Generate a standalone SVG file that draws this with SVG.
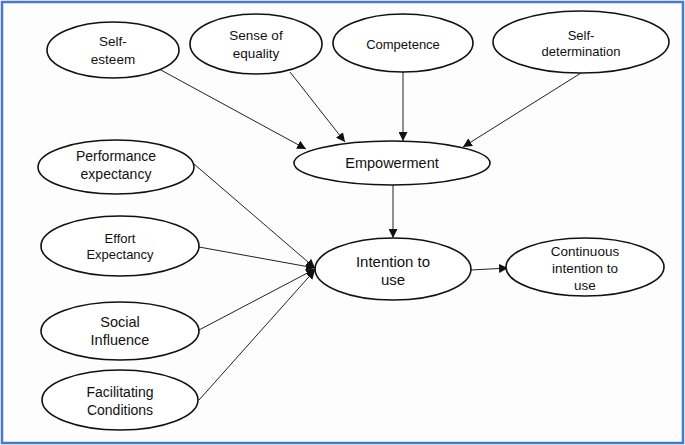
<svg xmlns="http://www.w3.org/2000/svg" width="685" height="445" viewBox="0 0 685 445">
<style>
.node ellipse{fill:#ffffff;stroke:#111;stroke-width:1.6}
.node text{font-family:"Liberation Sans",Arial,sans-serif;fill:#111;text-anchor:middle;dominant-baseline:central}
.c line{stroke:#222;stroke-width:1}
</style>
<defs>
<marker id="ah" viewBox="0 0 10 10" refX="10" refY="5" markerWidth="9" markerHeight="9" markerUnits="userSpaceOnUse" orient="auto">
<path d="M0,0 L10,5 L0,10 z" fill="#111"/>
</marker>
</defs>
<rect x="0" y="0" width="685" height="445" fill="#fdfdfd"/>
<rect x="2" y="2" width="681" height="441" fill="none" stroke="#4a78cc" stroke-width="2.5"/>
<g class="c">
<line x1="159" y1="69" x2="306" y2="149" marker-end="url(#ah)"/>
<line x1="290" y1="72" x2="345" y2="142" marker-end="url(#ah)"/>
<line x1="403" y1="72" x2="403" y2="141" marker-end="url(#ah)"/>
<line x1="581" y1="73" x2="463" y2="147" marker-end="url(#ah)"/>
<line x1="393" y1="185" x2="393" y2="238" marker-end="url(#ah)"/>
<line x1="471" y1="270" x2="508" y2="268" marker-end="url(#ah)"/>
<line x1="194" y1="164" x2="315" y2="268" marker-end="url(#ah)"/>
<line x1="199" y1="247" x2="315" y2="268" marker-end="url(#ah)"/>
<line x1="199" y1="330" x2="315" y2="269" marker-end="url(#ah)"/>
<line x1="199" y1="400" x2="315" y2="270" marker-end="url(#ah)"/>
</g>
<g id="self-esteem" class="node"><ellipse cx="113" cy="50" rx="66" ry="28"/><text x="113" y="41" font-size="13.5">Self-</text><text x="113" y="59" font-size="13.5">esteem</text></g>
<g id="sense-of-equality" class="node"><ellipse cx="256" cy="44" rx="66" ry="30"/><text x="256" y="35" font-size="13.5">Sense of</text><text x="256" y="53" font-size="13.5">equality</text></g>
<g id="competence" class="node"><ellipse cx="403" cy="43" rx="70" ry="29"/><text x="403" y="44" font-size="13">Competence</text></g>
<g id="self-determination" class="node"><ellipse cx="581" cy="42" rx="88" ry="31"/><text x="581" y="35" font-size="13">Self-</text><text x="581" y="51" font-size="13">determination</text></g>
<g id="empowerment" class="node"><ellipse cx="392" cy="163" rx="98" ry="22"/><text x="392" y="163" font-size="14.5">Empowerment</text></g>
<g id="performance-expectancy" class="node"><ellipse cx="116" cy="167" rx="78" ry="27"/><text x="116" y="156" font-size="14">Performance</text><text x="116" y="174" font-size="14">expectancy</text></g>
<g id="effort-expectancy" class="node"><ellipse cx="120" cy="246" rx="79" ry="30"/><text x="120" y="238" font-size="13">Effort</text><text x="120" y="254" font-size="13">Expectancy</text></g>
<g id="intention-to-use" class="node"><ellipse cx="393" cy="269" rx="78" ry="31"/><text x="393" y="261" font-size="15">Intention to</text><text x="393" y="279" font-size="15">use</text></g>
<g id="continuous-intention" class="node"><ellipse cx="585" cy="267" rx="79" ry="29"/><text x="585" y="251" font-size="13.5">Continuous</text><text x="585" y="268" font-size="13.5">intention to</text><text x="585" y="285" font-size="13.5">use</text></g>
<g id="social-influence" class="node"><ellipse cx="120" cy="331" rx="79" ry="29"/><text x="120" y="322" font-size="14.5">Social</text><text x="120" y="340" font-size="14.5">Influence</text></g>
<g id="facilitating-conditions" class="node"><ellipse cx="120" cy="400" rx="78" ry="30"/><text x="120" y="392" font-size="14">Facilitating</text><text x="120" y="410" font-size="14">Conditions</text></g>
</svg>
